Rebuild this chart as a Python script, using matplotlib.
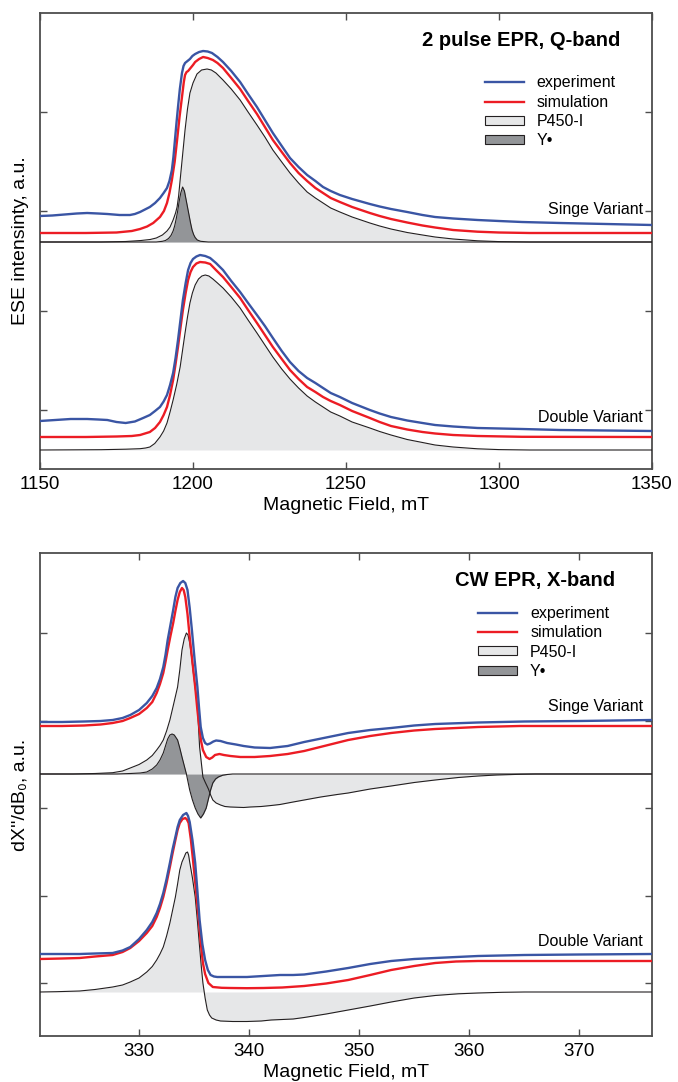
import matplotlib
matplotlib.use("Agg")
import matplotlib.pyplot as plt
from matplotlib.lines import Line2D
from matplotlib.patches import Patch
import numpy as np

plt.rcParams['font.family'] = ['Liberation Sans', 'DejaVu Sans']

# ================= Q-band (2 pulse EPR) =================
# field in mT; amplitudes (a.u.) relative to each group's P450 baseline
q_s_p450_x = [1150, 1170, 1178, 1183, 1186, 1188, 1190, 1191.5, 1192.5, 1193.5, 1194.3, 1194.8, 1195.3, 1195.8,
              1196.6, 1197.4, 1198.2, 1199, 1200, 1201.3, 1202.8, 1204.6, 1206, 1207.5, 1209.8, 1212.5, 1215.4,
              1218, 1220.9, 1223.5, 1226.1, 1229, 1231.7, 1234.5, 1237.3, 1240, 1242.5, 1245, 1248, 1252, 1257.8,
              1261, 1264.7, 1270, 1275, 1279.1, 1285, 1293, 1300, 1310, 1350]
q_s_p450_y = [0, 0, 0.5, 1.5, 2.5, 4, 7, 11, 15, 22, 29, 35, 46, 62,
              87, 112, 133, 149, 159, 168, 172, 173, 172, 169, 162, 153, 142,
              130, 117, 105, 92, 80, 69, 59, 50, 44, 39, 34, 30, 25, 19,
              16, 13, 9.5, 7, 5, 3, 1.2, 0.4, 0, 0]

q_s_ydot_x = [1150, 1188, 1190, 1191, 1192, 1192.8, 1193.5, 1194, 1194.5, 1195, 1195.5, 1196, 1196.6, 1197.2,
              1197.7, 1198.2, 1198.7, 1199.2, 1199.7, 1200.2, 1200.7, 1201.4, 1202.5, 1205, 1350]
q_s_ydot_y = [0, 0, 0.7, 1.5, 3.5, 6.5, 11, 16, 23, 31, 41, 49, 55, 51,
              43, 35, 27, 19, 12, 7.5, 4.5, 2, 0.7, 0, 0]

q_s_sim_x = [1150, 1165, 1175, 1180, 1182.7, 1185, 1187, 1189.2, 1190.5, 1191.5, 1192.3, 1193.1, 1194, 1194.8,
             1195.6, 1196.4, 1197, 1197.4, 1197.9, 1198.4, 1199.2, 1200, 1200.7, 1202, 1203.3, 1204.8, 1206.5,
             1208, 1209.8, 1212.5, 1215.4, 1218, 1220.9, 1223.5, 1226.1, 1229, 1231.7, 1234.5, 1237.3, 1240,
             1242.5, 1245, 1248, 1252, 1257.8, 1261, 1264.7, 1270, 1275, 1279.1, 1285, 1293, 1300, 1310, 1350]
q_s_sim_y = [9, 9, 9.5, 11, 13, 15.5, 19, 25, 31, 39, 49, 62, 80, 102,
             125, 145, 160, 167, 170, 171, 174, 177, 180, 183, 185, 184, 182,
             179, 174, 164, 153, 141, 128, 115, 102, 90, 79, 69, 61, 54,
             49, 44, 40, 35, 29, 26, 23, 19.5, 16.5, 14.5, 12, 10.3, 9.5, 9, 9]

q_s_exp_x = [1150, 1154, 1158, 1162, 1165.4, 1169, 1172, 1176, 1179.4, 1181, 1182.7, 1184.3, 1185.9, 1187.6,
             1189.2, 1190.4, 1191.5, 1192.3, 1193.1, 1193.6, 1194.1, 1194.6, 1195.1, 1195.7, 1196.4, 1196.9,
             1197.4, 1198.2, 1199, 1199.8, 1200.7, 1202, 1203.3, 1204.8, 1206.2, 1208, 1209.8, 1212.5, 1215.4,
             1218, 1220.9, 1223.5, 1226.1, 1229, 1231.7, 1234.5, 1237.3, 1240, 1242.5, 1245, 1248, 1252, 1257.8,
             1261, 1264.7, 1270, 1275, 1279.1, 1285, 1293, 1300, 1307.5, 1320, 1335, 1350]
q_s_exp_y = [26, 26.5, 27.5, 28.5, 29, 28.5, 28, 27, 27, 28, 30, 32.5, 35, 39,
             44, 49, 54, 61, 72, 85, 102, 119, 135, 153, 169, 176,
             179, 181, 183, 186, 188, 190, 191, 190.5, 189, 185, 180, 171, 160,
             148, 135, 122, 109, 96, 84, 75, 67, 61, 55, 51, 47, 43, 38,
             35.5, 33, 30, 27, 25, 23.5, 22, 21, 20, 19, 18, 17]

q_d_p450_x = [1150, 1170, 1178, 1182.7, 1184.5, 1185.9, 1187.5, 1189.2, 1190.4, 1191.5, 1192.5, 1193.5, 1194.7,
              1195.8, 1196.6, 1197.4, 1198.2, 1199, 1199.8, 1200.7, 1201.8, 1202.9, 1204, 1205.2, 1206.5, 1208,
              1209.8, 1212.5, 1215.4, 1218, 1220.9, 1223.5, 1226.1, 1229, 1231.7, 1234.5, 1237.3, 1240, 1242.5,
              1245, 1248, 1252, 1257.8, 1261, 1264.7, 1270, 1275, 1279.1, 1285, 1293, 1300, 1310, 1350]
q_d_p450_y = [0, 0.3, 0.8, 1.3, 2, 3, 6.5, 13, 19, 27, 38, 50, 66,
              83, 100, 117, 133, 147, 157, 165, 171, 174, 175, 174, 171, 167,
              162, 153, 142, 130, 117, 105, 93, 81, 71, 62, 54, 48, 43,
              38, 34, 28, 22, 18.5, 15, 10.5, 7.5, 5, 3, 1.2, 0.4, 0, 0]

q_d_sim_x = [1150, 1165, 1175, 1180, 1182.7, 1184.3, 1185.9, 1187.6, 1189.2, 1190.4, 1191.5, 1192.5, 1193.5,
             1194.3, 1195.1, 1195.9, 1196.7, 1197.6, 1198.4, 1199.2, 1200, 1201.1, 1202.3, 1204, 1205.6, 1207.5,
             1209.8, 1212.5, 1215.4, 1218, 1220.9, 1223.5, 1226.1, 1229, 1231.7, 1234.5, 1237.3, 1240, 1242.5,
             1245, 1248, 1252, 1257.8, 1261, 1264.7, 1270, 1275, 1279.1, 1285, 1293, 1307.5, 1350]
q_d_sim_y = [13, 13, 13.5, 14, 15, 16.5, 18, 22, 28, 35, 43, 55, 70,
             86, 103, 122, 140, 157, 170, 178, 183, 186.5, 188, 187.5, 186, 180,
             173, 163, 152, 140, 127, 115, 103, 91, 80, 71, 63, 58, 53,
             49, 45, 39, 32, 28, 24, 20.5, 18, 16.5, 15, 14, 13.2, 13]

q_d_exp_x = [1150, 1155, 1160, 1165.4, 1169, 1172, 1175, 1178, 1181, 1183.7, 1185.9, 1187.6, 1189.2, 1190.4,
             1191.5, 1192.5, 1193.5, 1194.3, 1195.1, 1195.9, 1196.7, 1197.6, 1198.4, 1199.2, 1200, 1201.1,
             1202.3, 1204, 1205.6, 1207.5, 1209.8, 1212.5, 1215.4, 1218, 1220.9, 1223.5, 1226.1, 1229, 1231.7,
             1234.5, 1237.3, 1240, 1242.5, 1245, 1248, 1252, 1257.8, 1261, 1264.7, 1270, 1275, 1279.1, 1285,
             1293, 1307.5, 1320, 1350]
q_d_exp_y = [29, 30, 31, 31, 30.5, 30, 28, 27, 28.5, 32, 35, 39, 43, 48.5,
             55, 65, 77, 92, 110, 130, 150, 167, 180, 187, 191, 193.5,
             195, 194, 192, 187, 180, 169, 158, 147, 135, 124, 112, 99, 88,
             79, 72, 67, 62, 57, 53, 47, 40, 36.5, 33, 29.5, 27, 25, 23.5,
             22, 21, 20, 19]

q_single_base = 168
q_double_base = -40

# ================= X-band (CW EPR) =================
x_s_p450_x = [321, 324, 326, 327.6, 328.5, 329.2, 330, 330.7, 331.2, 331.6, 331.9, 332.2, 332.5, 332.8, 333.1,
              333.5, 333.7, 333.9, 334.1, 334.3, 334.45, 334.6, 334.75, 334.9, 335.1, 335.3, 335.4, 335.5, 335.65,
              335.8, 336.0, 336.3, 336.5, 336.7, 337.0, 337.4, 337.8, 338.3, 339.5, 340.1, 341.1, 342, 342.8, 344,
              345, 346.5, 348, 349, 351, 352.9, 355, 356.9, 359, 360.8, 362.5, 364.6, 366, 376.6]
x_s_p450_y = [0, 0, 0.5, 1.3, 3, 6, 9.5, 14, 18.5, 24, 28.5, 34, 43, 54, 68,
              87, 104, 124, 135, 141, 139, 131, 119, 104, 86, 67, 47, 27, 12,
              -3, -8, -15, -21, -26, -29, -31, -32.5, -33, -33.5, -33, -32.5, -31.5, -30.5, -28,
              -26, -23, -20.5, -19, -15, -12, -8.5, -6, -3.5, -2, -1, -0.3, 0, 0]

x_s_ydot_x = [321, 328, 329.2, 330.1, 330.7, 331.2, 331.6, 331.9, 332.2, 332.4, 332.6, 332.8, 333.0, 333.2, 333.5,
              333.7, 333.9, 334.1, 334.3, 334.45, 334.6, 334.85, 335.1, 335.35, 335.6, 335.85, 336.1, 336.3, 336.5,
              336.7, 336.95, 337.2, 337.6, 338, 338.5, 376.6]
x_s_ydot_y = [0, 0, 0.5, 1, 2, 5, 9, 14, 21, 28, 35, 39, 40, 39, 34,
              26, 17, 8.5, 0, -8, -16, -26, -34, -40, -44, -40, -34, -25, -16,
              -9, -5, -3, -1.2, -0.5, 0, 0]

x_s_sim_x = [321, 323, 325, 326.5, 327.6, 328.5, 329.2, 330, 330.7, 331.2, 331.6, 331.9, 332.2, 332.4, 332.6,
             332.85, 333.1, 333.3, 333.5, 333.7, 333.9, 334.05, 334.2, 334.4, 334.6, 334.85, 335.1, 335.3, 335.5,
             335.65, 335.8, 336.1, 336.4, 336.65, 336.9, 337.3, 337.7, 338.3, 339.2, 340.5, 341.9, 343.5, 345,
             347, 349, 351, 352.9, 355, 356.9, 360.8, 364.6, 376.6]
x_s_sim_y = [48, 48, 48.5, 49.5, 51, 53, 56, 60, 66, 72, 81, 90, 101, 112, 124,
             138, 151, 163, 174, 182, 186, 184, 177, 160, 137, 112, 87, 64, 44,
             32, 24, 17, 15, 16.5, 19, 20, 19, 18, 17, 17, 18, 20, 23,
             28.5, 34, 38, 41, 43.5, 45, 47, 48, 48]

x_s_exp_x = [321, 323, 325, 326.5, 327.6, 328.5, 329.2, 330, 330.7, 331.2, 331.6, 331.9, 332.2, 332.4, 332.6,
             332.85, 333.1, 333.3, 333.5, 333.75, 334.0, 334.2, 334.4, 334.6, 334.8, 335.05, 335.3, 335.45, 335.6,
             335.8, 336.0, 336.2, 336.45, 336.75, 337.0, 337.4, 338, 338.8, 339.5, 340.5, 341.9, 343.5, 345, 347,
             349, 351, 352.9, 355, 356.9, 360.8, 365, 370, 376.6]
x_s_exp_y = [52, 52, 52.5, 53, 54, 56, 59, 64, 71, 78, 86, 95, 107, 119, 134,
             149, 164, 177, 186, 191, 193, 191, 184, 166, 144, 114, 87, 66, 47,
             36, 31, 29.5, 30.5, 32.5, 33.5, 33, 31, 29.5, 28, 26.5, 26, 28, 32, 36.5,
             41, 44, 46, 48.5, 50, 51.5, 52.5, 53, 54]

x_d_p450_x = [321, 322.5, 324.6, 326, 327.6, 328.5, 329.2, 330, 330.7, 331.2, 331.6, 331.9, 332.2, 332.5, 332.8,
              333.05, 333.3, 333.5, 333.7, 333.9, 334.1, 334.25, 334.4, 334.5, 334.6, 334.85, 335.1, 335.3, 335.5,
              335.65, 335.8, 336.0, 336.2, 336.4, 336.6, 337.0, 337.4, 338.5, 339.8, 341.1, 342, 343, 344, 345,
              347, 349, 351, 352.9, 355, 356.9, 359, 360.8, 363, 365, 376.6]
x_d_p450_y = [0, 0.3, 1, 2.5, 5, 7, 10, 14, 20, 25.5, 32, 38, 45, 56, 69,
              82, 95, 108, 122, 130, 135, 139, 140, 137, 130, 114, 95, 71, 45,
              26, 9, -6, -18, -23, -26, -28, -29, -29.5, -29.5, -29, -28, -27.5, -27, -25.5,
              -22, -18, -14, -10, -6, -3.5, -1.8, -1, -0.3, 0, 0]

x_d_sim_x = [321, 323, 324.6, 326, 327.6, 328.5, 329.2, 330, 330.7, 331.2, 331.6, 331.9, 332.2, 332.5, 332.8,
             333.05, 333.3, 333.5, 333.7, 333.95, 334.2, 334.35, 334.5, 334.7, 334.9, 335.15, 335.4, 335.6, 335.8,
             336.0, 336.3, 336.7, 337.5, 338.3, 339.8, 341.3, 343, 345, 347, 349, 351, 352.9, 355, 356.9, 358.8,
             360.8, 376.6]
x_d_sim_y = [33, 33.5, 34, 35.5, 37, 40, 44, 51, 59, 66, 75, 84, 95, 109, 125,
             139, 152, 162, 169, 173, 174, 172.5, 169, 153, 132, 104, 75, 50, 29,
             18, 9, 5, 4.2, 4, 3.8, 4, 4.5, 6, 8.5, 12, 17, 22, 26, 29, 30.5,
             31, 31]

x_d_exp_x = [321, 323, 324.6, 326, 327.6, 328.5, 329.2, 330, 330.7, 331.2, 331.6, 331.9, 332.2, 332.5, 332.8,
             333.05, 333.3, 333.5, 333.7, 334.0, 334.3, 334.45, 334.6, 334.85, 335.1, 335.3, 335.5, 335.75, 336.0,
             336.25, 336.5, 336.8, 337.1, 338.5, 339.8, 341.3, 342.8, 344, 345, 347, 349, 351, 352.9, 355, 356.9,
             360.8, 365, 370, 376.6]
x_d_exp_y = [38, 38, 38, 38.5, 39, 41.5, 45, 53, 62, 70, 79, 88, 99, 113, 129,
             143, 155, 165, 172, 177, 179, 176, 170, 152, 129, 101, 72, 48, 32,
             22, 17, 15.5, 15, 15, 15, 16, 17, 17, 17.5, 20.5, 24, 28, 31, 33, 34,
             36, 37, 37.5, 38]

x_single_base = 209
x_double_base = -9

# ================= labels =================
q_xticks = [1150, 1200, 1250, 1300, 1350]
x_xticks = [330, 340, 350, 360, 370]
legend_labels = ['experiment', 'simulation', 'P450-I', 'Y•']

BLUE = '#3a55a4'
RED = '#ec1c24'
LIGHT = '#e6e7e8'
DARK = '#939598'
EDGE = '#231f20'
SPINE = '#4d4d4d'

fig = plt.figure(figsize=(6.78, 10.82), dpi=100)
ax1 = fig.add_axes([40 / 678, 1 - 469 / 1082, 612 / 678, 456 / 1082])
ax2 = fig.add_axes([40 / 678, 1 - 1036 / 1082, 612 / 678, 483 / 1082])


def draw_group(ax, base, p450x, p450y, simx, simy, expx, expy, ydx=None, ydy=None):
    p450x = np.asarray(p450x, float)
    p450y = np.asarray(p450y, float) + base
    ax.fill_between(p450x, base, p450y, color=LIGHT, lw=0, zorder=1)
    if ydx is not None:
        ydx = np.asarray(ydx, float)
        ydy = np.asarray(ydy, float) + base
        ax.fill_between(ydx, base, ydy, color=DARK, lw=0, zorder=2)
    ax.plot(p450x, p450y, color=EDGE, lw=0.8, zorder=3)
    if ydx is not None:
        ax.plot(ydx, ydy, color=EDGE, lw=0.8, zorder=3)
    ax.plot(simx, np.asarray(simy, float) + base, color=RED, lw=1.7, zorder=4)
    ax.plot(expx, np.asarray(expy, float) + base, color=BLUE, lw=1.7, zorder=5)


draw_group(ax1, q_single_base, q_s_p450_x, q_s_p450_y, q_s_sim_x, q_s_sim_y, q_s_exp_x, q_s_exp_y,
           q_s_ydot_x, q_s_ydot_y)
draw_group(ax1, q_double_base, q_d_p450_x, q_d_p450_y, q_d_sim_x, q_d_sim_y, q_d_exp_x, q_d_exp_y)

draw_group(ax2, x_single_base, x_s_p450_x, x_s_p450_y, x_s_sim_x, x_s_sim_y, x_s_exp_x, x_s_exp_y,
           x_s_ydot_x, x_s_ydot_y)
draw_group(ax2, x_double_base, x_d_p450_x, x_d_p450_y, x_d_sim_x, x_d_sim_y, x_d_exp_x, x_d_exp_y)

ax1.set_xlim(1150, 1350)
ax1.set_ylim(-59, 397)
ax1.set_xticks(q_xticks)
ax1.set_yticks([0, 99.5, 199, 298.5])

ax2.set_xlim(321, 376.6)
ax2.set_ylim(-53, 430)
ax2.set_xticks(x_xticks)
ax2.set_yticks([0, 87.5, 175, 262.5, 350])

for ax in (ax1, ax2):
    ax.tick_params(direction='in', top=True, right=True, length=5, width=1, color=SPINE,
                   labelleft=False, labelsize=13.5, pad=5)
    for s in ax.spines.values():
        s.set_color(SPINE)
        s.set_linewidth(1.3)
    ax.set_xlabel('Magnetic Field, mT', fontsize=14, labelpad=3)

ax1.set_ylabel('ESE intensinty, a.u.', fontsize=14, labelpad=8)
ax2.set_ylabel('dX\'\'/dB₀, a.u.', fontsize=14, labelpad=8)

ax1.text(0.948, 0.9386, '2 pulse EPR, Q-band', transform=ax1.transAxes, ha='right', va='center',
         fontsize=14.5, fontweight='bold')
ax2.text(0.9395, 0.944, 'CW EPR, X-band', transform=ax2.transAxes, ha='right', va='center',
         fontsize=14.5, fontweight='bold')

ax1.text(0.985, 0.568, 'Singe Variant', transform=ax1.transAxes, ha='right', va='center', fontsize=11.5)
ax1.text(0.985, 0.114, 'Double Variant', transform=ax1.transAxes, ha='right', va='center', fontsize=11.5)
ax2.text(0.985, 0.683, 'Singe Variant', transform=ax2.transAxes, ha='right', va='center', fontsize=11.5)
ax2.text(0.985, 0.195, 'Double Variant', transform=ax2.transAxes, ha='right', va='center', fontsize=11.5)

for ax, anchor in ((ax1, (0.727, 0.863)), (ax2, (0.716, 0.8903))):
    handles = [Line2D([], [], color=BLUE, lw=1.7), Line2D([], [], color=RED, lw=1.7),
               Patch(facecolor=LIGHT, edgecolor=EDGE, lw=0.8), Patch(facecolor=DARK, edgecolor=EDGE, lw=0.8)]
    ax.legend(handles, legend_labels, loc='upper left', bbox_to_anchor=anchor, frameon=False,
              fontsize=11.5, handlelength=2.45, handleheight=0.5, handletextpad=0.8,
              labelspacing=0.27, borderpad=0, borderaxespad=0)

fig.savefig('out.png', dpi=100)
